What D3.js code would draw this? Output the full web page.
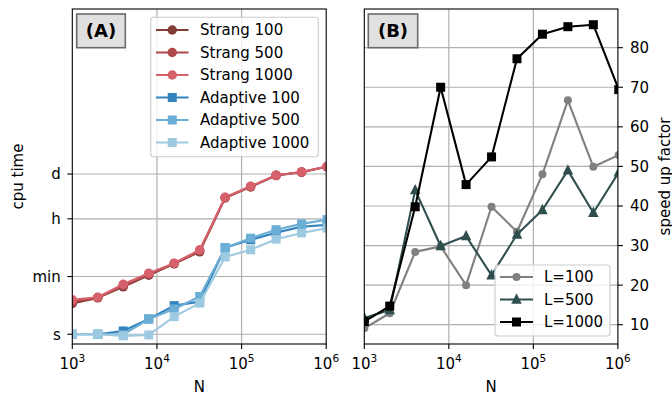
<!DOCTYPE html>
<html>
<head>
<meta charset="utf-8">
<script src="https://cdn.jsdelivr.net/npm/d3@7"></script>
<style>
  html, body { margin: 0; padding: 0; background: #fff; }
  svg { display: block; font-family: "DejaVu Sans", sans-serif; }
</style>
</head>
<body>
<svg id="chart" width="672" height="397"></svg>
<script>
// Problem sizes N (doubling from 1000)
const N = [1000, 2000, 4000, 8000, 16000, 32000, 64000, 128000, 256000, 512000, 1024000];

// CPU time in seconds
const strang100    = [8.9, 13.2, 28.8, 66, 148, 347, 15850, 34700, 77600, 97700, 144500];
const strang500    = [10, 13.5, 31.6, 70.8, 151, 372, 16200, 35500, 79400, 100000, 148000];
const strang1000   = [11.5, 13.8, 34.7, 75.9, 155, 398, 16600, 36300, 79400, 100000, 148000];
const adaptive100  = [1.0, 1.0, 1.26, 2.95, 7.6, 10.1, 460, 813, 1350, 2040, 2350];
const adaptive500  = [1.0, 1.0, 0.97, 2.95, 6.0, 14.5, 460, 912, 1660, 2510, 3390];
const adaptive1000 = [1.0, 1.0, 0.89, 0.95, 3.5, 9.1, 240, 400, 850, 1320, 1860];

// Speed-up factors
const speedup100  = [9.1, 12.9, 28.4, 29.8, 20, 39.8, 33.5, 48, 66.7, 49.9, 52.9];
const speedup500  = [11.7, 13.7, 44, 29.9, 32.4, 22.5, 32.8, 39, 49, 38.3, 48.5];
const speedup1000 = [10.8, 14.7, 39.8, 70, 45.4, 52.4, 77.2, 83.4, 85.3, 85.8, 69.4];

// Tick labels
const xTicks = [1e3, 1e4, 1e5, 1e6];
const timeTicks = [1, 60, 3600, 86400];
const timeTickLabels = ["s", "min", "h", "d"];
const speedTicks = [10, 20, 30, 40, 50, 60, 70, 80];

const svg = d3.select("#chart");
const FS = 15;
const GRID = "#b0b0b0";

const plotTop = 9, plotBottom = 344;
const A = { left: 72.3, right: 326.2 };
const B = { left: 364.3, right: 617.9 };

const xA = d3.scaleLog().domain([1e3, 1e6]).range([A.left, A.right]);
const xB = d3.scaleLog().domain([1e3, 1e6]).range([B.left, B.right]);
const yA = d3.scaleLog().domain([0.5, 1.05e10]).range([plotBottom, plotTop]);
const yB = d3.scaleLinear().domain([5.13, 89.77]).range([plotBottom, plotTop]);

const defs = svg.append("defs");
defs.append("clipPath").attr("id", "clipA").append("rect")
  .attr("x", A.left).attr("y", plotTop).attr("width", A.right - A.left).attr("height", plotBottom - plotTop);
defs.append("clipPath").attr("id", "clipB").append("rect")
  .attr("x", B.left).attr("y", plotTop).attr("width", B.right - B.left).attr("height", plotBottom - plotTop);

// marker drawing helper
function marker(g, shape, x, y, color, size) {
  if (shape === "circle") {
    g.append("circle").attr("cx", x).attr("cy", y).attr("r", size / 2).attr("fill", color);
  } else if (shape === "square") {
    g.append("rect").attr("x", x - size / 2).attr("y", y - size / 2)
      .attr("width", size).attr("height", size).attr("fill", color);
  } else if (shape === "triangle") {
    const h = size * 0.95, w = size;
    g.append("path").attr("d", `M${x},${y - h * 0.62}L${x + w / 2},${y + h * 0.42}L${x - w / 2},${y + h * 0.42}Z`)
      .attr("fill", color);
  }
}

function drawSeries(g, xs, ys, values, s) {
  const line = d3.line().x((d, i) => xs(N[i])).y(d => ys(d));
  g.append("path").datum(values).attr("d", line)
    .attr("fill", "none").attr("stroke", s.color).attr("stroke-width", 2.1)
    .attr("stroke-linejoin", "round");
  values.forEach((v, i) => marker(g, s.shape, xs(N[i]), ys(v), s.color, s.size));
}

function grid(xs, ys, yticks, box) {
  const g = svg.append("g");
  xTicks.forEach(t => {
    if (t > 1e3 && t < 1e6) g.append("line").attr("x1", xs(t)).attr("x2", xs(t))
      .attr("y1", plotTop).attr("y2", plotBottom).attr("stroke", GRID).attr("stroke-width", 1.2);
  });
  yticks.forEach(t => {
    g.append("line").attr("x1", box.left).attr("x2", box.right)
      .attr("y1", ys(t)).attr("y2", ys(t)).attr("stroke", GRID).attr("stroke-width", 1.2);
  });
}

function xAxis(xs) {
  const g = svg.append("g");
  xTicks.forEach(t => {
    const x = xs(t);
    g.append("line").attr("x1", x).attr("x2", x).attr("y1", plotBottom).attr("y2", plotBottom + 5)
      .attr("stroke", "#000").attr("stroke-width", 1.1);
    const txt = g.append("text").attr("x", x).attr("y", 369).attr("text-anchor", "middle")
      .attr("font-size", FS).attr("fill", "#000");
    txt.append("tspan").text("10");
    txt.append("tspan").attr("dy", -6.8).attr("font-size", 10.5).text(Math.round(Math.log10(t)));
  });
}

function frame(box) {
  svg.append("rect").attr("x", box.left).attr("y", plotTop)
    .attr("width", box.right - box.left).attr("height", plotBottom - plotTop)
    .attr("fill", "none").attr("stroke", "#000").attr("stroke-width", 1.1);
}

function panelLabel(x, y, w, h, text) {
  svg.append("rect").attr("x", x).attr("y", y).attr("width", w).attr("height", h)
    .attr("fill", "#e0e0e0").attr("stroke", "#6a6a6a").attr("stroke-width", 1.6);
  svg.append("text").attr("x", x + w / 2).attr("y", y + h / 2 + 6.5)
    .attr("text-anchor", "middle").attr("font-size", 18).attr("font-weight", "bold")
    .attr("fill", "#000").text(text);
}

function legend(x, y, w, h, items, rowY, handleX0, handleX1, textX) {
  const g = svg.append("g");
  g.append("rect").attr("x", x).attr("y", y).attr("width", w).attr("height", h)
    .attr("rx", 3).attr("fill", "#fff").attr("fill-opacity", 0.8)
    .attr("stroke", "#cccccc").attr("stroke-width", 1.1);
  items.forEach((s, i) => {
    const yy = rowY[i];
    g.append("line").attr("x1", handleX0).attr("x2", handleX1).attr("y1", yy).attr("y2", yy)
      .attr("stroke", s.color).attr("stroke-width", 2.1);
    marker(g, s.shape, (handleX0 + handleX1) / 2, yy, s.color, s.size);
    g.append("text").attr("x", textX).attr("y", yy + 5.4).attr("font-size", FS)
      .attr("fill", "#000").text(s.name);
  });
}

// ---------- Panel A: cpu time ----------
grid(xA, yA, timeTicks, A);
const seriesA = [
  { name: "Strang 100",    values: strang100,    color: "#843c39", shape: "circle", size: 9.5 },
  { name: "Strang 500",    values: strang500,    color: "#ad494a", shape: "circle", size: 9.5 },
  { name: "Strang 1000",   values: strang1000,   color: "#d6616b", shape: "circle", size: 9.5 },
  { name: "Adaptive 100",  values: adaptive100,  color: "#3182bd", shape: "square", size: 9 },
  { name: "Adaptive 500",  values: adaptive500,  color: "#6baed6", shape: "square", size: 9 },
  { name: "Adaptive 1000", values: adaptive1000, color: "#9ecae1", shape: "square", size: 9 }
];
const gA = svg.append("g").attr("clip-path", "url(#clipA)");
seriesA.forEach(s => drawSeries(gA, xA, yA, s.values, s));
frame(A);
xAxis(xA);
timeTicks.forEach((t, i) => {
  const y = yA(t);
  svg.append("line").attr("x1", A.left - 5).attr("x2", A.left).attr("y1", y).attr("y2", y)
    .attr("stroke", "#000").attr("stroke-width", 1.1);
  svg.append("text").attr("x", A.left - 11.5).attr("y", y + 5.4).attr("text-anchor", "end")
    .attr("font-size", FS).attr("fill", "#000").text(timeTickLabels[i]);
});
svg.append("text").attr("transform", `translate(22.5,${(plotTop + plotBottom) / 2}) rotate(-90)`)
  .attr("text-anchor", "middle").attr("font-size", FS).attr("fill", "#000").text("cpu time");
svg.append("text").attr("x", (A.left + A.right) / 2).attr("y", 392).attr("text-anchor", "middle")
  .attr("font-size", FS).attr("fill", "#000").text("N");
panelLabel(76.7, 14, 48.6, 33.7, "(A)");
legend(150.7, 17.3, 167.6, 139.4, seriesA,
  [30, 52.5, 75, 97.5, 120, 142.5], 156, 188.5, 200);

// ---------- Panel B: speed up factor ----------
grid(xB, yB, speedTicks, B);
const seriesB = [
  { name: "L=100",  values: speedup100,  color: "#808080", shape: "circle",   size: 8 },
  { name: "L=500",  values: speedup500,  color: "#2f4f4f", shape: "triangle", size: 10.5 },
  { name: "L=1000", values: speedup1000, color: "#000000", shape: "square",   size: 9 }
];
const gB = svg.append("g").attr("clip-path", "url(#clipB)");
seriesB.forEach(s => drawSeries(gB, xB, yB, s.values, s));
frame(B);
xAxis(xB);
speedTicks.forEach(t => {
  const y = yB(t);
  svg.append("line").attr("x1", B.right).attr("x2", B.right + 5).attr("y1", y).attr("y2", y)
    .attr("stroke", "#000").attr("stroke-width", 1.1);
  svg.append("text").attr("x", B.right + 12).attr("y", y + 5.4)
    .attr("font-size", FS).attr("fill", "#000").text(t);
});
svg.append("text").attr("transform", `translate(669.5,${(plotTop + plotBottom) / 2}) rotate(-90)`)
  .attr("text-anchor", "middle").attr("font-size", FS).attr("fill", "#000").text("speed up factor");
svg.append("text").attr("x", (B.left + B.right) / 2).attr("y", 392).attr("text-anchor", "middle")
  .attr("font-size", FS).attr("fill", "#000").text("N");
panelLabel(368.3, 14, 49.4, 33.7, "(B)");
legend(495, 265, 115, 71, seriesB, [277, 299.5, 322], 500, 533, 544);
</script>
</body>
</html>
